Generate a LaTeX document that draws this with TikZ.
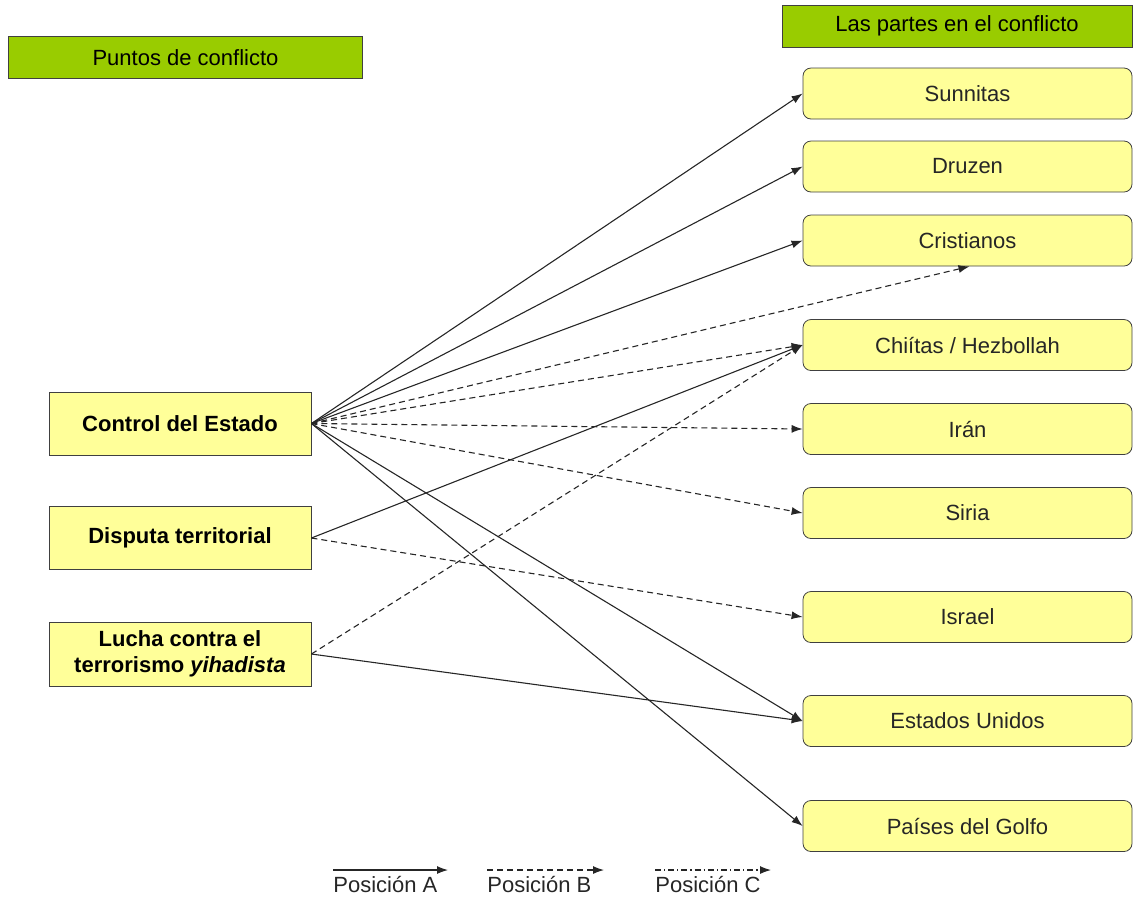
\documentclass[tikz,border=0pt]{standalone}
\usepackage{fontspec}
\setmainfont{Liberation Sans}
\usepackage{xcolor}
\usetikzlibrary{positioning,arrows,arrows.meta}
\definecolor{verde}{HTML}{99CC00}
\definecolor{amarillo}{HTML}{FFFF99}
\definecolor{borde}{HTML}{404040}
\tikzset{
  header/.style={draw=borde,fill=verde,inner sep=0pt,minimum width=177pt,minimum height=21pt,
    font=\fontsize{11}{13}\selectfont},
  punto/.style={draw=borde,fill=amarillo,inner sep=0pt,minimum width=131pt,minimum height=31.5pt,
    align=center,font=\fontsize{11}{13}\selectfont\bfseries},
  parte/.style={draw=borde,fill=amarillo,rounded corners=4pt,inner sep=0pt,minimum width=164.5pt,
    minimum height=25.5pt,font=\fontsize{11}{13}\selectfont,text=black!85},
  posA/.style={->,draw=black!85,line width=0.55pt},
  posB/.style={posA,dash pattern=on 3pt off 2pt},
  posC/.style={posA,dash pattern=on 3pt off 1.5pt on 0.6pt off 1.5pt},
  leyenda/.style={inner sep=0pt,anchor=north west,font=\fontsize{11}{13}\selectfont,text=black!85}
}
\begin{document}
\begin{tikzpicture}[x=0.5pt,y=-0.5pt,>={Latex[length=5.5pt,width=4pt]}]
\useasboundingbox (0,0) rectangle (1133,896);
% encabezados
\node[header] (puntos) at (185.5,57.5) {Puntos de conflicto};
\node[header,minimum width=175pt] (partes) at (957,26) {Las partes en el conflicto};
% puntos de conflicto
\node[punto] (estado) at (180,423.5) {Control del Estado};
\node[punto] (disputa) at (180,538) {Disputa territorial};
\node[punto,minimum height=32pt] (lucha) at (180,654) {Lucha contra el\\terrorismo \textit{yihadista}};
% partes
\node[parte] (sunnitas) at (967.5,93.5) {Sunnitas};
\node[parte] (druzen) at (967.5,166.5) {Druzen};
\node[parte] (cristianos) at (967.5,240.5) {Cristianos};
\node[parte] (chiitas) at (967.5,345) {Chiítas / Hezbollah};
\node[parte] (iran) at (967.5,429) {Irán};
\node[parte] (siria) at (967.5,513) {Siria};
\node[parte] (israel) at (967.5,617) {Israel};
\node[parte] (eeuu) at (967.5,721) {Estados Unidos};
\node[parte] (golfo) at (967.5,826) {Países del Golfo};
% relaciones
\foreach \p in {sunnitas,druzen,cristianos,eeuu,golfo}
  \draw[posA] (estado.east) -- (\p.west);
\foreach \p in {chiitas,iran,siria}
  \draw[posB] (estado.east) -- (\p.west);
\draw[posB] (estado.east) -- ([xshift=1pt]cristianos.south);
\draw[posA] (disputa.east) -- (chiitas.west);
\draw[posB] (disputa.east) -- (israel.west);
\draw[posB] (lucha.east) -- (chiitas.west);
\draw[posA] (lucha.east) -- (eeuu.west);
% leyenda
\node[leyenda] (legA) at (333,876) {Posición A};
\node[leyenda] (legB) at (487,876) {Posición B};
\node[leyenda] (legC) at (655,876) {Posición C};
\coordinate (finA) at (448,870);
\coordinate (finB) at (604,870);
\coordinate (finC) at (771,870);
\draw[posA] (333,870) -- (finA);
\draw[posB] (487,870) -- (finB);
\draw[posC] (655,870) -- (finC);
\end{tikzpicture}
\end{document}
